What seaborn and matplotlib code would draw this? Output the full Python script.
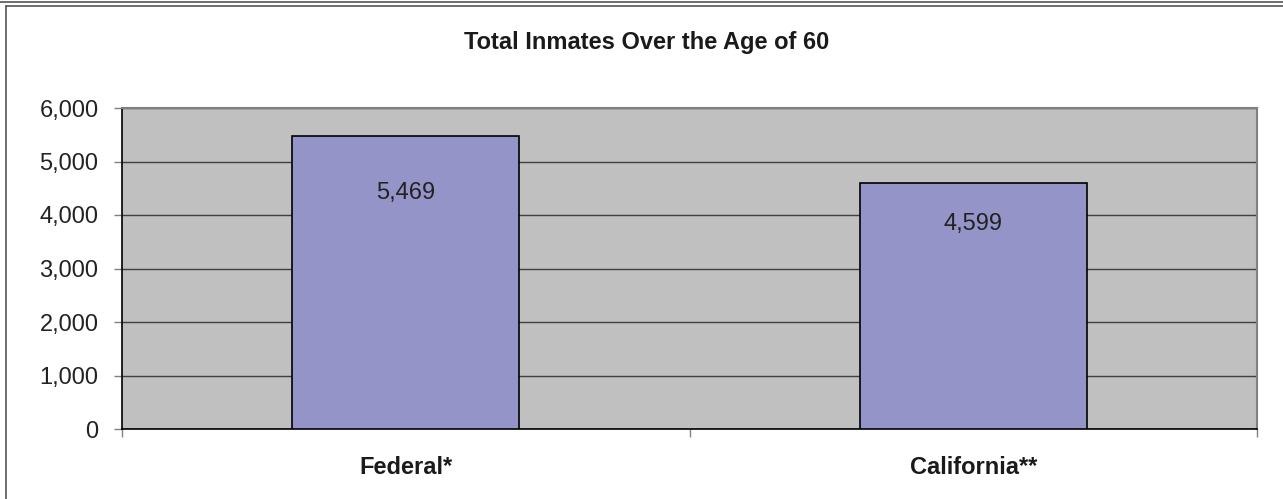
import matplotlib
matplotlib.use("Agg")
import matplotlib.pyplot as plt
import seaborn as sns
import pandas as pd
from matplotlib.lines import Line2D
from matplotlib.ticker import FuncFormatter, FixedLocator

categories = ["Federal*", "California**"]
inmates = [5469, 4599]
label_offsets = [-57, -41]  # px below bar top, as in the source chart

sns.set_style("white")
plt.rcParams["font.family"] = ["Liberation Sans", "DejaVu Sans"]

df = pd.DataFrame({"group": categories, "inmates": inmates})

fig = plt.figure(figsize=(12.83, 4.99), dpi=100)
ax = fig.add_axes([122 / 1283, 1 - 429 / 499, (1257 - 122) / 1283, (429 - 108) / 499])

sns.barplot(data=df, x="group", y="inmates", color="#9494C8", width=0.4,
            edgecolor="black", linewidth=1.2, saturation=1, ax=ax, zorder=3)

ax.set_facecolor("#C0C0C0")
ax.set_xlim(-0.5, 1.5)
ax.set_ylim(0, 6000)
ax.set_yticks(range(0, 6001, 1000))
ax.yaxis.set_major_formatter(FuncFormatter(lambda v, p: f"{int(v):,}"))
ax.grid(axis="y", color="#404040", linewidth=1, zorder=1)
ax.set_axisbelow(True)

for s in ["left", "bottom"]:
    ax.spines[s].set_color("black")
    ax.spines[s].set_linewidth(1.2)
for s in ["top", "right"]:
    ax.spines[s].set_color("#808080")
    ax.spines[s].set_linewidth(1.5)

ax.tick_params(axis="y", left=True, length=6, width=1, color="#808080",
               labelsize=17, labelcolor="#222222", pad=11)
ax.tick_params(axis="x", which="major", bottom=False, labelsize=17, labelcolor="#1a1a1a", pad=16)
ax.xaxis.set_minor_locator(FixedLocator([-0.5, 0.5, 1.5]))
ax.tick_params(axis="x", which="minor", bottom=True, length=6, width=1, color="#808080")
for lbl in ax.get_xticklabels():
    lbl.set_fontweight("bold")
ax.set_xlabel("")
ax.set_ylabel("")

for i, (v, off) in enumerate(zip(inmates, label_offsets)):
    ax.annotate(f"{v:,}", xy=(i, v), xytext=(0, off * 72 / 100), textcoords="offset points",
                ha="center", va="center", fontsize=17, color="#222222", zorder=5)

fig.text(647 / 1283, 1 - 43 / 499, "Total Inmates Over the Age of 60", ha="center", va="center",
         fontsize=17, fontweight="bold", color="#1a1a1a")

# outer frame lines
fig.add_artist(Line2D([0, 1], [1 - 2 / 499, 1 - 2 / 499], color="#555555", linewidth=1.2))
fig.add_artist(Line2D([6 / 1283, 1], [1 - 6 / 499, 1 - 6 / 499], color="#555555", linewidth=1.2))
fig.add_artist(Line2D([6 / 1283, 6 / 1283], [0, 1 - 6 / 499], color="#555555", linewidth=1.2))

fig.savefig("out.png", dpi=100)
